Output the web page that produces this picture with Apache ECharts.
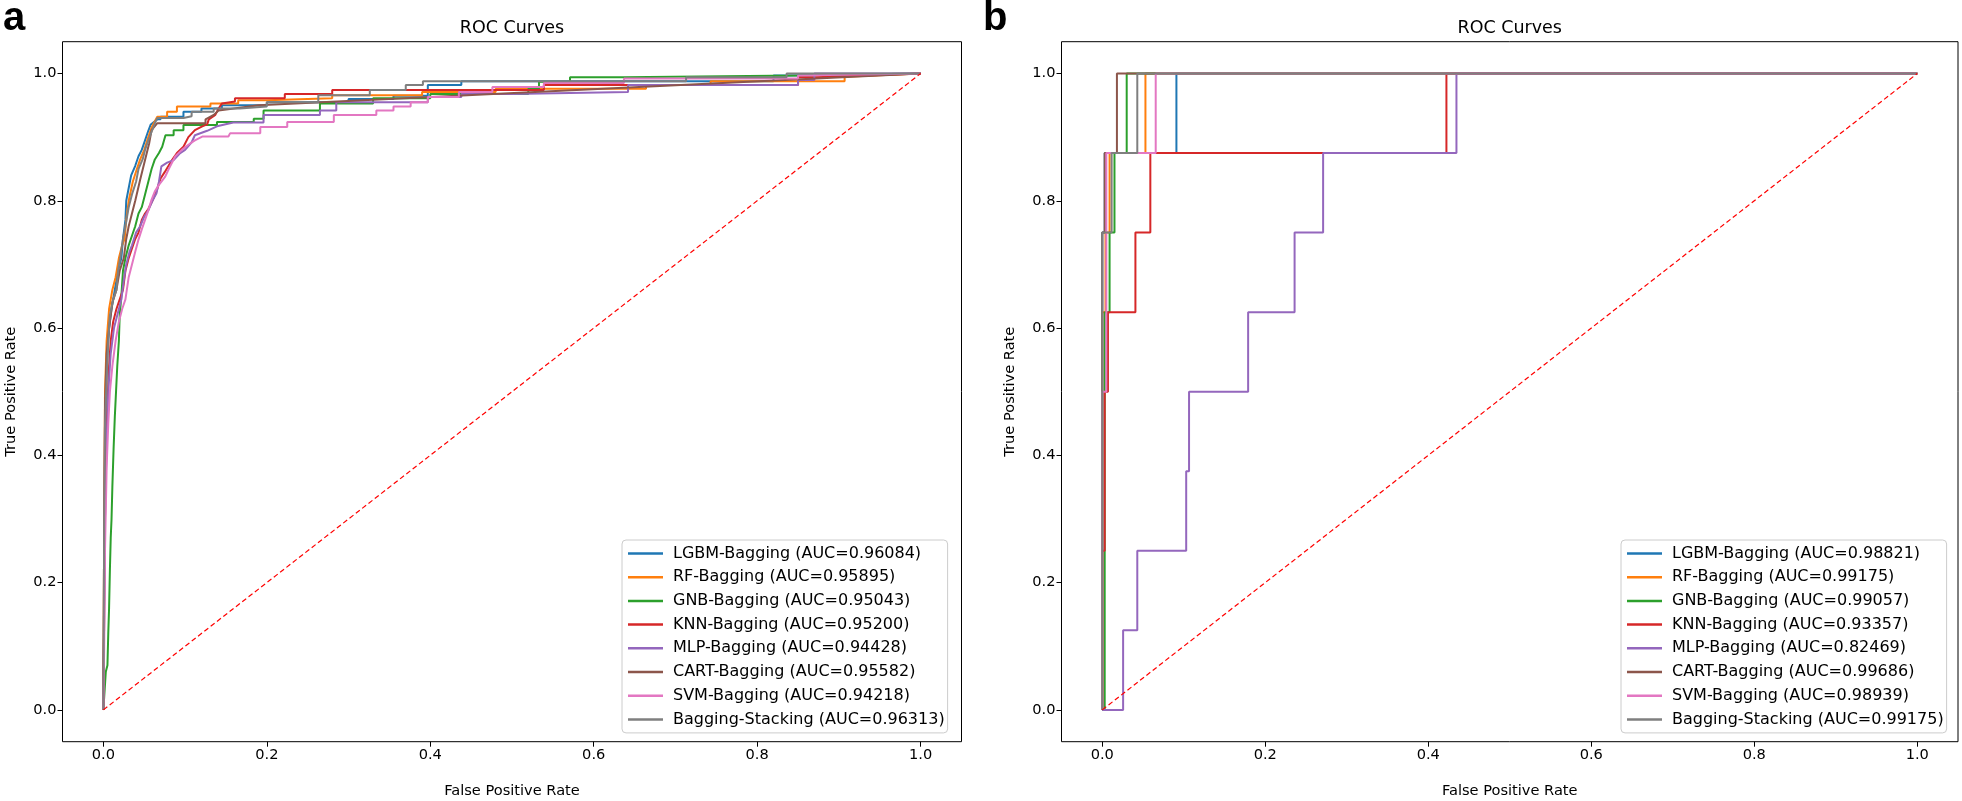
<!DOCTYPE html>
<html><head><meta charset="utf-8">
<script src="https://cdn.jsdelivr.net/npm/echarts@6/dist/echarts.min.js"></script>
<style>html,body{margin:0;padding:0;background:#fff}#chart{width:1962px;height:801px}</style>
</head><body><div id="chart"></div>
<script>
// ---------- labels ----------
const modelNames = ['LGBM-Bagging','RF-Bagging','GNB-Bagging','KNN-Bagging','MLP-Bagging','CART-Bagging','SVM-Bagging','Bagging-Stacking'];
const aucA = ['0.96084','0.95895','0.95043','0.95200','0.94428','0.95582','0.94218','0.96313'];
const aucB = ['0.98821','0.99175','0.99057','0.93357','0.82469','0.99686','0.98939','0.99175'];
const tickValues = [0, 0.2, 0.4, 0.6, 0.8, 1.0];
const panelTitles = ['ROC Curves','ROC Curves'];
const panelLetters = ['a','b'];
const xName = 'False Positive Rate';
const yName = 'True Positive Rate';
const diagonal = [[0,0],[1,1]];

// ---------- panel a : [FPR, TPR] ----------
const lgbmA = [[0,0],[0.001,0.2],[0.002,0.4],[0.003,0.5],[0.005,0.56],[0.007,0.6],[0.010,0.63],[0.014,0.66],[0.018,0.69],[0.022,0.71],[0.024,0.74],[0.027,0.77],[0.028,0.80],[0.031,0.82],[0.034,0.84],[0.039,0.855],[0.043,0.87],[0.047,0.88],[0.051,0.895],[0.055,0.91],[0.058,0.92],[0.066,0.928],[0.07,0.928],[0.07,0.932],[0.098,0.932],[0.098,0.94],[0.12,0.94],[0.12,0.945],[0.145,0.945],[0.145,0.95],[0.2,0.95],[0.2,0.955],[0.3,0.955],[0.3,0.96],[0.355,0.96],[0.355,0.965],[0.397,0.965],[0.397,0.982],[0.438,0.982],[0.438,0.988],[0.82,0.988],[0.82,0.997],[0.836,0.997],[0.836,1],[1,1]];
const rfA = [[0,0],[0.001,0.3],[0.002,0.5],[0.004,0.58],[0.007,0.63],[0.011,0.66],[0.015,0.68],[0.019,0.71],[0.023,0.73],[0.026,0.74],[0.028,0.77],[0.031,0.80],[0.036,0.83],[0.041,0.85],[0.045,0.865],[0.05,0.88],[0.055,0.90],[0.059,0.915],[0.063,0.925],[0.066,0.932],[0.078,0.932],[0.078,0.94],[0.09,0.94],[0.09,0.948],[0.131,0.948],[0.131,0.953],[0.165,0.953],[0.165,0.958],[0.2,0.958],[0.2,0.961],[0.28,0.961],[0.28,0.966],[0.39,0.966],[0.39,0.971],[0.48,0.971],[0.48,0.976],[0.664,0.976],[0.664,0.982],[0.743,0.982],[0.743,0.988],[0.907,0.988],[0.907,0.995],[1,1]];
const gnbA = [[0,0],[0.003,0.06],[0.005,0.07],[0.006,0.12],[0.007,0.16],[0.008,0.22],[0.009,0.27],[0.010,0.3],[0.011,0.35],[0.0125,0.41],[0.014,0.46],[0.0155,0.5],[0.017,0.54],[0.019,0.58],[0.020,0.62],[0.022,0.65],[0.024,0.69],[0.027,0.71],[0.031,0.73],[0.035,0.745],[0.039,0.76],[0.043,0.78],[0.047,0.79],[0.051,0.81],[0.055,0.83],[0.059,0.85],[0.063,0.865],[0.068,0.875],[0.072,0.885],[0.076,0.903],[0.086,0.903],[0.086,0.911],[0.098,0.911],[0.098,0.919],[0.139,0.919],[0.139,0.924],[0.184,0.924],[0.184,0.929],[0.196,0.929],[0.196,0.942],[0.265,0.942],[0.265,0.953],[0.33,0.953],[0.33,0.961],[0.4,0.961],[0.4,0.968],[0.52,0.968],[0.52,0.976],[0.533,0.976],[0.533,0.987],[0.571,0.987],[0.571,0.994],[0.637,0.994],[0.637,0.997],[0.85,0.997],[0.85,1],[1,1]];
const knnA = [[0,0],[0.001,0.15],[0.002,0.3],[0.003,0.4],[0.005,0.48],[0.007,0.54],[0.009,0.58],[0.012,0.61],[0.016,0.63],[0.020,0.645],[0.024,0.66],[0.027,0.69],[0.031,0.71],[0.035,0.725],[0.039,0.74],[0.043,0.75],[0.047,0.77],[0.051,0.78],[0.055,0.787],[0.06,0.80],[0.065,0.815],[0.07,0.835],[0.075,0.845],[0.084,0.864],[0.09,0.875],[0.098,0.885],[0.104,0.90],[0.112,0.911],[0.121,0.917],[0.127,0.92],[0.129,0.928],[0.137,0.935],[0.141,0.945],[0.145,0.953],[0.161,0.956],[0.161,0.961],[0.222,0.961],[0.222,0.968],[0.28,0.968],[0.28,0.974],[0.539,0.974],[0.539,0.982],[0.85,0.982],[0.85,0.994],[0.872,0.994],[0.872,0.997],[1,1]];
const mlpA = [[0,0],[0.001,0.15],[0.002,0.3],[0.004,0.42],[0.006,0.5],[0.009,0.56],[0.013,0.6],[0.017,0.62],[0.022,0.645],[0.025,0.675],[0.028,0.7],[0.032,0.72],[0.035,0.73],[0.04,0.75],[0.045,0.76],[0.05,0.775],[0.055,0.785],[0.06,0.8],[0.065,0.812],[0.068,0.83],[0.071,0.854],[0.078,0.86],[0.086,0.864],[0.094,0.875],[0.1,0.88],[0.108,0.892],[0.112,0.903],[0.127,0.91],[0.139,0.917],[0.159,0.923],[0.196,0.923],[0.196,0.935],[0.265,0.935],[0.265,0.942],[0.285,0.942],[0.285,0.955],[0.397,0.955],[0.397,0.963],[0.438,0.963],[0.438,0.968],[0.5,0.968],[0.5,0.971],[0.642,0.971],[0.642,0.982],[0.85,0.982],[0.85,0.99],[0.87,0.99],[0.87,1],[1,1]];
const cartA = [[0,0],[0.001,0.3],[0.002,0.48],[0.004,0.56],[0.007,0.60],[0.011,0.64],[0.016,0.66],[0.02,0.69],[0.025,0.71],[0.028,0.74],[0.031,0.76],[0.035,0.78],[0.039,0.80],[0.045,0.833],[0.051,0.864],[0.056,0.89],[0.059,0.911],[0.066,0.922],[0.125,0.922],[0.125,0.928],[0.135,0.935],[0.141,0.942],[0.19,0.95],[1,1]];
const svmA = [[0,0],[0.001,0.1],[0.002,0.25],[0.004,0.38],[0.006,0.45],[0.008,0.5],[0.011,0.54],[0.015,0.58],[0.019,0.61],[0.023,0.63],[0.027,0.645],[0.031,0.68],[0.035,0.7],[0.039,0.72],[0.043,0.739],[0.047,0.755],[0.051,0.77],[0.055,0.785],[0.059,0.802],[0.063,0.815],[0.068,0.825],[0.0757,0.838],[0.08,0.85],[0.088,0.87],[0.096,0.88],[0.104,0.888],[0.112,0.895],[0.121,0.901],[0.153,0.901],[0.155,0.906],[0.192,0.906],[0.192,0.916],[0.225,0.916],[0.225,0.924],[0.282,0.924],[0.282,0.935],[0.334,0.935],[0.334,0.942],[0.355,0.942],[0.355,0.948],[0.376,0.948],[0.376,0.955],[0.397,0.955],[0.397,0.963],[0.435,0.963],[0.435,0.971],[0.476,0.971],[0.476,0.979],[0.539,0.979],[0.539,0.985],[0.637,0.985],[0.637,0.992],[0.85,0.992],[0.85,0.997],[1,1]];
const stackA = [[0,0],[0.001,0.3],[0.002,0.45],[0.004,0.52],[0.006,0.58],[0.008,0.62],[0.012,0.645],[0.016,0.66],[0.018,0.69],[0.021,0.713],[0.024,0.74],[0.027,0.76],[0.031,0.79],[0.035,0.81],[0.04,0.83],[0.043,0.85],[0.048,0.865],[0.051,0.88],[0.055,0.895],[0.058,0.905],[0.061,0.915],[0.064,0.925],[0.066,0.93],[0.098,0.93],[0.098,0.933],[0.108,0.933],[0.108,0.94],[0.135,0.94],[0.135,0.945],[0.167,0.945],[0.167,0.948],[0.2,0.948],[0.2,0.955],[0.263,0.955],[0.263,0.966],[0.326,0.966],[0.326,0.974],[0.37,0.974],[0.37,0.982],[0.391,0.982],[0.391,0.988],[0.713,0.988],[0.713,0.994],[0.836,0.994],[0.836,1],[1,1]];

// ---------- panel b : [FPR, TPR] ----------
const lgbmB = [[0,0],[0,0.75],[0.003,0.75],[0.003,0.875],[0.091,0.875],[0.091,1],[1,1]];
const rfB = [[0,0],[0,0.625],[0.004,0.625],[0.004,0.75],[0.009,0.75],[0.009,0.875],[0.053,0.875],[0.053,1],[1,1]];
const gnbB = [[0,0],[0.003,0],[0.003,0.625],[0.009,0.625],[0.009,0.75],[0.015,0.75],[0.015,0.875],[0.030,0.875],[0.030,1],[1,1]];
const knnB = [[0,0],[0,0.25],[0.003,0.25],[0.003,0.5],[0.007,0.5],[0.007,0.625],[0.0407,0.625],[0.0407,0.75],[0.059,0.75],[0.059,0.875],[0.4223,0.875],[0.4223,1],[1,1]];
const mlpB = [[0,0],[0.0256,0],[0.0256,0.125],[0.043,0.125],[0.043,0.25],[0.103,0.25],[0.103,0.375],[0.1065,0.375],[0.1065,0.5],[0.179,0.5],[0.179,0.625],[0.236,0.625],[0.236,0.75],[0.271,0.75],[0.271,0.875],[0.4346,0.875],[0.4346,1],[1,1]];
const cartB = [[0,0],[0,0.75],[0.003,0.75],[0.003,0.875],[0.018,0.875],[0.018,1],[1,1]];
const svmB = [[0,0],[0,0.5],[0.005,0.5],[0.005,0.875],[0.0656,0.875],[0.0656,1],[1,1]];
const stackB = [[0,0],[0,0.75],[0.0115,0.75],[0.0115,0.875],[0.043,0.875],[0.043,1],[1,1]];

const curvesA = [lgbmA, rfA, gnbA, knnA, mlpA, cartA, svmA, stackA];
const curvesB = [lgbmB, rfB, gnbB, knnB, mlpB, cartB, svmB, stackB];
const colors = ['#1f77b4','#ff7f0e','#2ca02c','#d62728','#9467bd','#8c564b','#e377c2','#7f7f7f'];

const FONT = "'DejaVu Sans', sans-serif";
const grids = [
  {left: 62.5, top: 41.7, width: 899, height: 700},
  {left: 1061.5, top: 41.7, width: 896.5, height: 700}
];

function mkX(i){
  return {
    type:'value', gridIndex:i, min:-0.05, max:1.05,
    name:xName, nameLocation:'middle', nameGap:42,
    nameTextStyle:{fontFamily:FONT, fontSize:14.6, color:'#000'},
    axisLine:{show:false, onZero:false},
    axisTick:{show:true, customValues:tickValues, length:5, lineStyle:{color:'#000', width:1}},
    axisLabel:{show:true, customValues:tickValues, formatter:v=>v.toFixed(1), margin:6, fontFamily:FONT, fontSize:14.6, color:'#000'},
    splitLine:{show:false}
  };
}
function mkY(i){
  return {
    type:'value', gridIndex:i, min:-0.05, max:1.05,
    name:yName, nameLocation:'middle', nameGap:44, nameRotate:90,
    nameTextStyle:{fontFamily:FONT, fontSize:14.6, color:'#000'},
    axisLine:{show:false, onZero:false},
    axisTick:{show:true, customValues:tickValues, length:5, lineStyle:{color:'#000', width:1}},
    axisLabel:{show:true, customValues:tickValues, formatter:v=>v.toFixed(1), margin:6, fontFamily:FONT, fontSize:14.6, color:'#000'},
    splitLine:{show:false}
  };
}

const series = [];
const legendNames = [[],[]];
[curvesA, curvesB].forEach((curves, p) => {
  const aucs = p === 0 ? aucA : aucB;
  curves.forEach((data, k) => {
    const name = modelNames[k] + ' (AUC=' + aucs[k] + ')';
    legendNames[p].push(name);
    series.push({
      type:'line', name:name, xAxisIndex:p, yAxisIndex:p, data:data,
      showSymbol:false, symbol:'none', smooth:false, animation:false,
      lineStyle:{color:colors[k], width:2}, itemStyle:{color:colors[k]}, z:2+k
    });
  });
  series.push({
    type:'line', name:'diag'+p, xAxisIndex:p, yAxisIndex:p, data:diagonal,
    showSymbol:false, symbol:'none', animation:false,
    lineStyle:{color:'#ff0000', width:1.2, type:[5,3]}, z:20
  });
});

function mkLegend(p, left){
  return {
    data:legendNames[p], orient:'vertical', left:left, top:540,
    icon:'rect', itemWidth:35, itemHeight:2.5, itemGap:7.7,
    padding:[5.5, 3, 5.5, 6],
    backgroundColor:'rgba(255,255,255,0.8)', borderColor:'#cccccc', borderWidth:1, borderRadius:4,
    selectedMode:false,
    textStyle:{fontFamily:FONT, fontSize:16, color:'#000', lineHeight:16, padding:[0,0,0,5]}
  };
}

const graphics = [];
grids.forEach((g, p) => {
  graphics.push({type:'text', x:g.left + g.width/2, y:28, style:{text:panelTitles[p], textAlign:'center', textVerticalAlign:'middle', font:"17.5px 'DejaVu Sans'", fill:'#000'}});
});
graphics.push({type:'text', x:3, y:19, style:{text:panelLetters[0], textAlign:'left', textVerticalAlign:'middle', font:"bold 40px 'Liberation Sans'", fill:'#000'}});
graphics.push({type:'text', x:983, y:19, style:{text:panelLetters[1], textAlign:'left', textVerticalAlign:'middle', font:"bold 40px 'Liberation Sans'", fill:'#000'}});

const chart = echarts.init(document.getElementById('chart'), null, {renderer:'canvas'});
chart.setOption({
  backgroundColor:'#fff',
  animation:false,
  grid: grids.map(g => Object.assign({show:true, borderColor:'#000', borderWidth:1, backgroundColor:'transparent', containLabel:false, outerBoundsMode:'none'}, g)),
  xAxis:[mkX(0), mkX(1)],
  yAxis:[mkY(0), mkY(1)],
  legend:[mkLegend(0, 622), mkLegend(1, 1621)],
  graphic:graphics,
  series:series
});
</script>
</body></html>
